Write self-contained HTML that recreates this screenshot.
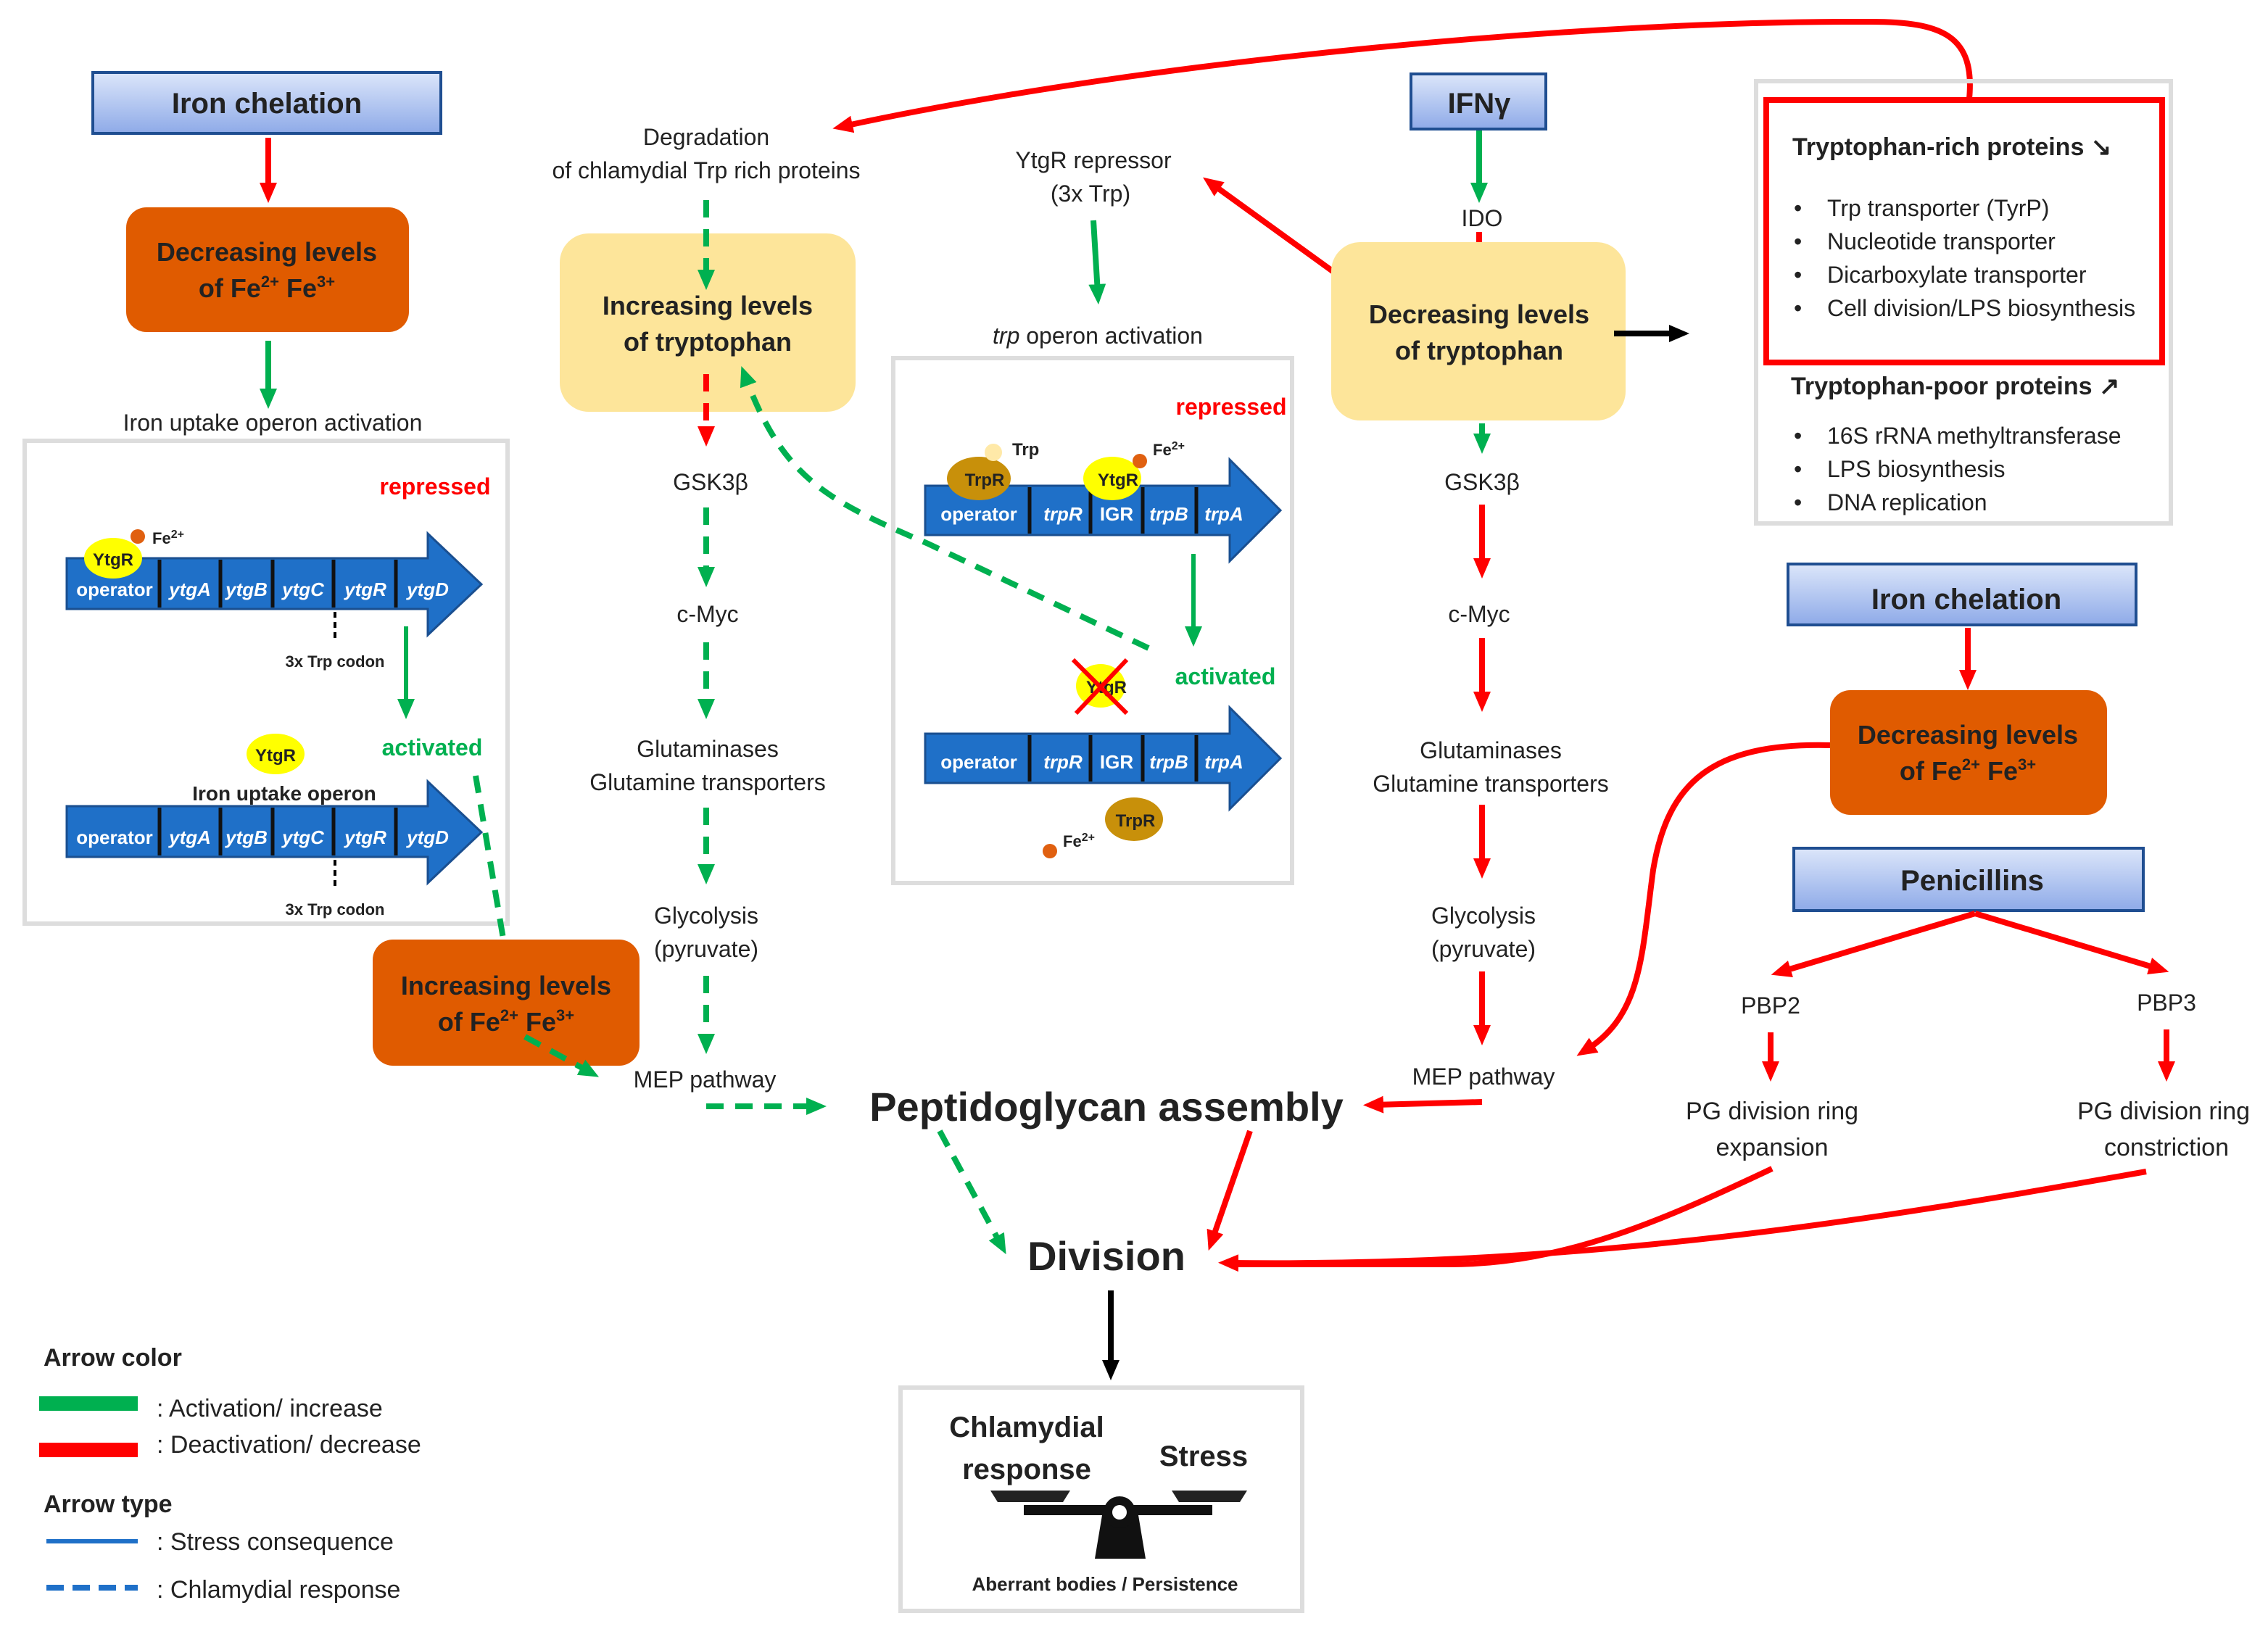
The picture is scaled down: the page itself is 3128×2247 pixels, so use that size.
<!DOCTYPE html>
<html><head><meta charset="utf-8"><style>
html,body{margin:0;padding:0;background:#fff}
svg{display:block}
text{font-family:"Liberation Sans",sans-serif;fill:#222}
.b{font-weight:bold}
.t{font-size:16px;text-anchor:middle}
.g{font-size:13px;font-style:italic;font-weight:bold;fill:#fff;text-anchor:middle}
.gn{font-size:13px;font-weight:bold;fill:#fff;text-anchor:middle}
</style></head><body>
<svg width="3128" height="2247" viewBox="0 0 1564 1123.5" xmlns="http://www.w3.org/2000/svg">
<defs>
<linearGradient id="bl" x1="0" y1="0" x2="0" y2="1"><stop offset="0" stop-color="#dce6fa"/><stop offset="1" stop-color="#8eaae8"/></linearGradient>
<marker id="mg" markerWidth="14" markerHeight="12" refX="6" refY="6" orient="auto" markerUnits="userSpaceOnUse"><path d="M0,0 L14,6 L0,12 z" fill="#00b050"/></marker>
<marker id="mr" markerWidth="14" markerHeight="12" refX="6" refY="6" orient="auto" markerUnits="userSpaceOnUse"><path d="M0,0 L14,6 L0,12 z" fill="#ff0000"/></marker>
<marker id="mk" markerWidth="14" markerHeight="12" refX="6" refY="6" orient="auto" markerUnits="userSpaceOnUse"><path d="M0,0 L14,6 L0,12 z" fill="#000"/></marker>
<g id="op1">
<path d="M46,385 H295 V368 L332,403 L295,438 V420 H46 Z" fill="#1f70c8" stroke="#1a4f90" stroke-width="1.5"/>
<g stroke="#111" stroke-width="2.5"><line x1="110" y1="386" x2="110" y2="419"/><line x1="152" y1="386" x2="152" y2="419"/><line x1="188" y1="386" x2="188" y2="419"/><line x1="230" y1="386" x2="230" y2="419"/><line x1="273" y1="386" x2="273" y2="419"/></g>
<text x="79" y="411" class="gn" font-weight="bold">operator</text><text x="131" y="411" class="g">ytgA</text><text x="170" y="411" class="g">ytgB</text><text x="209" y="411" class="g">ytgC</text><text x="252" y="411" class="g">ytgR</text><text x="295" y="411" class="g">ytgD</text>
<line x1="231" y1="422" x2="231" y2="442" stroke="#000" stroke-width="2" stroke-dasharray="4,3"/>
<text x="231" y="460" font-size="11" font-weight="bold" text-anchor="middle">3x Trp codon</text>
</g>
<g id="op3">
<path d="M638,335 H848 V317 L883,352 L848,387 V369 H638 Z" fill="#1f70c8" stroke="#1a4f90" stroke-width="1.5"/>
<g stroke="#111" stroke-width="2.5"><line x1="710" y1="336" x2="710" y2="368"/><line x1="752" y1="336" x2="752" y2="368"/><line x1="788" y1="336" x2="788" y2="368"/><line x1="825" y1="336" x2="825" y2="368"/></g>
<text x="675" y="359" class="gn">operator</text><text x="733" y="359" class="g">trpR</text><text x="770" y="359" class="gn">IGR</text><text x="806" y="359" class="g">trpB</text><text x="844" y="359" class="g">trpA</text>
</g>
</defs>

<!-- Left column -->
<rect x="64" y="50" width="240" height="42" fill="url(#bl)" stroke="#1f4e91" stroke-width="2"/>
<text x="184" y="78" font-size="20" class="b" text-anchor="middle">Iron chelation</text>
<line x1="185" y1="95" x2="185" y2="132" stroke="#f00" stroke-width="4" marker-end="url(#mr)"/>
<rect x="87" y="143" width="195" height="86" rx="14" fill="#e05b00"/>
<text x="184" y="180" font-size="18" class="b" text-anchor="middle">Decreasing levels</text>
<text x="184" y="205" font-size="18" class="b" text-anchor="middle">of  Fe<tspan font-size="11" dy="-7">2+</tspan><tspan dy="7"> Fe</tspan><tspan font-size="11" dy="-7">3+</tspan></text>
<line x1="185" y1="235" x2="185" y2="274" stroke="#00b050" stroke-width="4" marker-end="url(#mg)"/>
<text x="188" y="297" class="t">Iron uptake operon activation</text>
<rect x="17" y="304" width="333" height="333" fill="none" stroke="#ddd" stroke-width="3"/>
<text x="300" y="341" font-size="16" class="b" text-anchor="middle" style="fill:#f00">repressed</text>
<use href="#op1"/>
<ellipse cx="78" cy="385" rx="20" ry="14" fill="#ffff00"/><text x="78" y="390" font-size="12" font-weight="bold" text-anchor="middle">YtgR</text>
<circle cx="95" cy="370" r="5" fill="#e06010"/><text x="105" y="375" font-size="11" font-weight="bold">Fe<tspan font-size="8" dy="-4">2+</tspan></text>
<line x1="280" y1="432" x2="280" y2="488" stroke="#00b050" stroke-width="3" marker-end="url(#mg)"/>
<text x="298" y="521" font-size="16" class="b" text-anchor="middle" style="fill:#00b050">activated</text>
<ellipse cx="190" cy="520" rx="20" ry="14" fill="#ffff00"/><text x="190" y="525" font-size="12" font-weight="bold" text-anchor="middle">YtgR</text>
<text x="196" y="552" font-size="14" font-weight="bold" text-anchor="middle">Iron uptake operon</text>
<use href="#op1" transform="translate(0,171)"/>
<path d="M328,535 L350,665" stroke="#00b050" stroke-width="4" stroke-dasharray="12,8" fill="none" marker-end="url(#mg)"/>
<rect x="257" y="648" width="184" height="87" rx="14" fill="#e05b00"/>
<text x="349" y="686" font-size="18" class="b" text-anchor="middle">Increasing levels</text>
<text x="349" y="711" font-size="18" class="b" text-anchor="middle">of  Fe<tspan font-size="11" dy="-7">2+</tspan><tspan dy="7"> Fe</tspan><tspan font-size="11" dy="-7">3+</tspan></text>
<path d="M362,715 L406,739" stroke="#00b050" stroke-width="4" stroke-dasharray="12,8" fill="none" marker-end="url(#mg)"/>

<!-- Trp-rich degradation column -->
<text x="487" y="100" class="t">Degradation</text>
<text x="487" y="123" class="t">of chlamydial Trp rich proteins</text>
<rect x="386" y="161" width="204" height="123" rx="20" fill="#fde59a"/>
<text x="488" y="217" font-size="18" class="b" text-anchor="middle">Increasing levels</text>
<text x="488" y="242" font-size="18" class="b" text-anchor="middle">of tryptophan</text>
<g stroke-width="4" stroke-dasharray="12,8" fill="none">
<line x1="487" y1="138" x2="487" y2="192" stroke="#00b050" marker-end="url(#mg)"/>
<line x1="487" y1="258" x2="487" y2="300" stroke="#f00" marker-end="url(#mr)"/>
<line x1="487" y1="350" x2="487" y2="397" stroke="#00b050" marker-end="url(#mg)"/>
<line x1="487" y1="443" x2="487" y2="488" stroke="#00b050" marker-end="url(#mg)"/>
<line x1="487" y1="557" x2="487" y2="602" stroke="#00b050" marker-end="url(#mg)"/>
<line x1="487" y1="673" x2="487" y2="719" stroke="#00b050" marker-end="url(#mg)"/>
<line x1="487" y1="763" x2="562" y2="763" stroke="#00b050" marker-end="url(#mg)"/>
<path d="M792,447 L640,375 C570,345 540,330 514,260" stroke="#00b050" marker-end="url(#mg)"/>
<line x1="648" y1="780" x2="690" y2="858" stroke="#00b050" marker-end="url(#mg)"/>
</g>
<text x="490" y="338" class="t">GSK3β</text>
<text x="488" y="429" class="t">c-Myc</text>
<text x="488" y="522" class="t">Glutaminases</text>
<text x="488" y="545" class="t">Glutamine transporters</text>
<text x="487" y="637" class="t">Glycolysis</text>
<text x="487" y="660" class="t">(pyruvate)</text>
<text x="486" y="750" class="t">MEP pathway</text>

<!-- trp operon -->
<text x="754" y="116" class="t">YtgR repressor</text>
<text x="752" y="139" class="t">(3x Trp)</text>
<line x1="754" y1="152" x2="757" y2="202" stroke="#00b050" stroke-width="4" marker-end="url(#mg)"/>
<text x="757" y="237" class="t"><tspan font-style="italic">trp</tspan> operon activation</text>
<rect x="616" y="247" width="275" height="362" fill="none" stroke="#ddd" stroke-width="3"/>
<text x="849" y="286" font-size="16" class="b" text-anchor="middle" style="fill:#f00">repressed</text>
<use href="#op3"/>
<ellipse cx="675" cy="330" rx="22" ry="15" fill="#c8900a"/><text x="679" y="335" font-size="12" font-weight="bold" text-anchor="middle">TrpR</text>
<circle cx="685" cy="312" r="6" fill="#ffe9a8"/><text x="698" y="314" font-size="12" font-weight="bold">Trp</text>
<ellipse cx="767" cy="330" rx="20" ry="15" fill="#ffff00"/><text x="771" y="335" font-size="12" font-weight="bold" text-anchor="middle">YtgR</text>
<circle cx="786" cy="318" r="5" fill="#e06010"/><text x="795" y="314" font-size="11" font-weight="bold">Fe<tspan font-size="8" dy="-4">2+</tspan></text>
<line x1="823" y1="382" x2="823" y2="438" stroke="#00b050" stroke-width="3" marker-end="url(#mg)"/>
<text x="845" y="472" font-size="16" class="b" text-anchor="middle" style="fill:#00b050">activated</text>
<ellipse cx="759" cy="473" rx="17" ry="15" fill="#ffff00"/><text x="763" y="478" font-size="12" font-weight="bold" text-anchor="middle">YtgR</text>
<g stroke="#f00" stroke-width="3"><line x1="740" y1="455" x2="777" y2="492"/><line x1="777" y1="455" x2="742" y2="492"/></g>
<use href="#op3" transform="translate(0,171)"/>
<ellipse cx="782" cy="565" rx="20" ry="15" fill="#c8900a"/><text x="783" y="570" font-size="12" font-weight="bold" text-anchor="middle">TrpR</text>
<circle cx="724" cy="587" r="5" fill="#e06010"/><text x="733" y="584" font-size="11" font-weight="bold">Fe<tspan font-size="8" dy="-4">2+</tspan></text>

<!-- IFNg column -->
<line x1="930" y1="195" x2="836" y2="127" stroke="#f00" stroke-width="4" marker-end="url(#mr)"/>
<rect x="973" y="51" width="93" height="38" fill="url(#bl)" stroke="#1f4e91" stroke-width="2"/>
<text x="1020" y="78" font-size="20" class="b" text-anchor="middle">IFNγ</text>
<line x1="1020" y1="90" x2="1020" y2="132" stroke="#00b050" stroke-width="4" marker-end="url(#mg)"/>
<text x="1022" y="156" class="t">IDO</text>
<line x1="1020" y1="160" x2="1020" y2="186" stroke="#f00" stroke-width="4" marker-end="url(#mr)"/>
<rect x="918" y="167" width="203" height="123" rx="20" fill="#fde59a"/>
<text x="1020" y="223" font-size="18" class="b" text-anchor="middle">Decreasing levels</text>
<text x="1020" y="248" font-size="18" class="b" text-anchor="middle">of tryptophan</text>
<line x1="1113" y1="230" x2="1157" y2="230" stroke="#000" stroke-width="4" marker-end="url(#mk)"/>
<line x1="1022" y1="292" x2="1022" y2="305" stroke="#00b050" stroke-width="4" marker-end="url(#mg)"/>
<text x="1022" y="338" class="t">GSK3β</text>
<g stroke="#f00" stroke-width="4">
<line x1="1022" y1="348" x2="1022" y2="391" marker-end="url(#mr)"/>
<line x1="1022" y1="440" x2="1022" y2="483" marker-end="url(#mr)"/>
<line x1="1022" y1="555" x2="1022" y2="598" marker-end="url(#mr)"/>
<line x1="1022" y1="670" x2="1022" y2="713" marker-end="url(#mr)"/>
<line x1="1022" y1="760" x2="948" y2="762" marker-end="url(#mr)"/>
</g>
<text x="1020" y="429" class="t">c-Myc</text>
<text x="1028" y="523" class="t">Glutaminases</text>
<text x="1028" y="546" class="t">Glutamine transporters</text>
<text x="1023" y="637" class="t">Glycolysis</text>
<text x="1023" y="660" class="t">(pyruvate)</text>
<text x="1023" y="748" class="t">MEP pathway</text>

<!-- top curve -->
<path d="M1358,68 C1362,25 1340,15 1290,15 C1100,14 800,40 582,87" stroke="#f00" stroke-width="4" fill="none" marker-end="url(#mr)"/>

<!-- protein boxes -->
<rect x="1211" y="56" width="286" height="305" fill="none" stroke="#ddd" stroke-width="3"/>
<rect x="1218" y="69" width="273" height="181" fill="#fff" stroke="#f00" stroke-width="4"/>
<text x="1236" y="107" font-size="17" class="b">Tryptophan-rich proteins ↘</text>
<g font-size="16"><text x="1237" y="149">•</text><text x="1260" y="149">Trp transporter (TyrP)</text>
<text x="1237" y="172">•</text><text x="1260" y="172">Nucleotide transporter</text>
<text x="1237" y="195">•</text><text x="1260" y="195">Dicarboxylate transporter</text>
<text x="1237" y="218">•</text><text x="1260" y="218">Cell division/LPS biosynthesis</text></g>
<text x="1235" y="272" font-size="17" class="b">Tryptophan-poor proteins ↗</text>
<g font-size="16"><text x="1237" y="306">•</text><text x="1260" y="306">16S rRNA methyltransferase</text>
<text x="1237" y="329">•</text><text x="1260" y="329">LPS biosynthesis</text>
<text x="1237" y="352">•</text><text x="1260" y="352">DNA replication</text></g>

<!-- right iron chelation -->
<rect x="1233" y="389" width="240" height="42" fill="url(#bl)" stroke="#1f4e91" stroke-width="2"/>
<text x="1356" y="420" font-size="20" class="b" text-anchor="middle">Iron chelation</text>
<line x1="1357" y1="433" x2="1357" y2="468" stroke="#f00" stroke-width="4" marker-end="url(#mr)"/>
<path d="M1262,514 C1180,512 1150,540 1140,600 C1132,660 1132,700 1094,724" stroke="#f00" stroke-width="4" fill="none" marker-end="url(#mr)"/>
<rect x="1262" y="476" width="191" height="86" rx="14" fill="#e05b00"/>
<text x="1357" y="513" font-size="18" class="b" text-anchor="middle">Decreasing levels</text>
<text x="1357" y="538" font-size="18" class="b" text-anchor="middle">of  Fe<tspan font-size="11" dy="-7">2+</tspan><tspan dy="7"> Fe</tspan><tspan font-size="11" dy="-7">3+</tspan></text>
<rect x="1237" y="585" width="241" height="43" fill="url(#bl)" stroke="#1f4e91" stroke-width="2"/>
<text x="1360" y="614" font-size="20" class="b" text-anchor="middle">Penicillins</text>
<g stroke="#f00" stroke-width="4">
<line x1="1362" y1="630" x2="1229" y2="670" marker-end="url(#mr)"/>
<line x1="1362" y1="630" x2="1488" y2="668" marker-end="url(#mr)"/>
<line x1="1221" y1="712" x2="1221" y2="738" marker-end="url(#mr)"/>
<line x1="1494" y1="710" x2="1494" y2="738" marker-end="url(#mr)"/>
</g>
<text x="1221" y="699" class="t">PBP2</text>
<text x="1494" y="697" class="t">PBP3</text>
<text x="1222" y="772" font-size="17" text-anchor="middle">PG division ring</text>
<text x="1222" y="797" font-size="17" text-anchor="middle">expansion</text>
<text x="1492" y="772" font-size="17" text-anchor="middle">PG division ring</text>
<text x="1494" y="797" font-size="17" text-anchor="middle">constriction</text>
<path d="M1222,806 C1150,840 1080,872 1000,872 L848,872" stroke="#f00" stroke-width="4" fill="none"/>
<path d="M1480,808 C1300,840 1100,874 848,871" stroke="#f00" stroke-width="4" fill="none" marker-end="url(#mr)"/>

<!-- center -->
<text x="763" y="773" font-size="28" class="b" text-anchor="middle">Peptidoglycan assembly</text>
<line x1="862" y1="780" x2="836" y2="855" stroke="#f00" stroke-width="4" marker-end="url(#mr)"/>
<text x="763" y="876" font-size="28" class="b" text-anchor="middle">Division</text>
<line x1="766" y1="890" x2="766" y2="944" stroke="#000" stroke-width="4" marker-end="url(#mk)"/>
<rect x="621" y="957" width="277" height="154" fill="none" stroke="#ddd" stroke-width="3"/>
<text x="708" y="991" font-size="20" class="b" text-anchor="middle">Chlamydial</text>
<text x="708" y="1020" font-size="20" class="b" text-anchor="middle">response</text>
<text x="830" y="1011" font-size="20" class="b" text-anchor="middle">Stress</text>
<g>
<path d="M683,1028 H738 L733,1036 H688 Z" fill="#222"/>
<path d="M808,1028 H860 L855,1036 H813 Z" fill="#222"/>
<rect x="706" y="1038" width="130" height="7" fill="#111"/>
<path d="M760,1045 L755,1075 H790 L785,1045 Z" fill="#111"/>
<circle cx="772" cy="1043" r="11" fill="#111"/><circle cx="772" cy="1043" r="5" fill="#fff"/>
</g>
<text x="762" y="1097" font-size="13" class="b" text-anchor="middle">Aberrant bodies / Persistence</text>

<!-- legend -->
<text x="30" y="942" font-size="17" class="b">Arrow color</text>
<line x1="27" y1="968" x2="95" y2="968" stroke="#00b050" stroke-width="10"/>
<text x="108" y="977" font-size="17">: Activation/ increase</text>
<line x1="27" y1="1000" x2="95" y2="1000" stroke="#f00" stroke-width="10"/>
<text x="108" y="1002" font-size="17">: Deactivation/ decrease</text>
<text x="30" y="1043" font-size="17" class="b">Arrow type</text>
<line x1="32" y1="1063" x2="95" y2="1063" stroke="#1f70c8" stroke-width="3"/>
<text x="108" y="1069" font-size="17">: Stress consequence</text>
<line x1="32" y1="1095" x2="95" y2="1095" stroke="#1f70c8" stroke-width="4" stroke-dasharray="12,6"/>
<text x="108" y="1102" font-size="17">: Chlamydial response</text>
</svg>
</body></html>
